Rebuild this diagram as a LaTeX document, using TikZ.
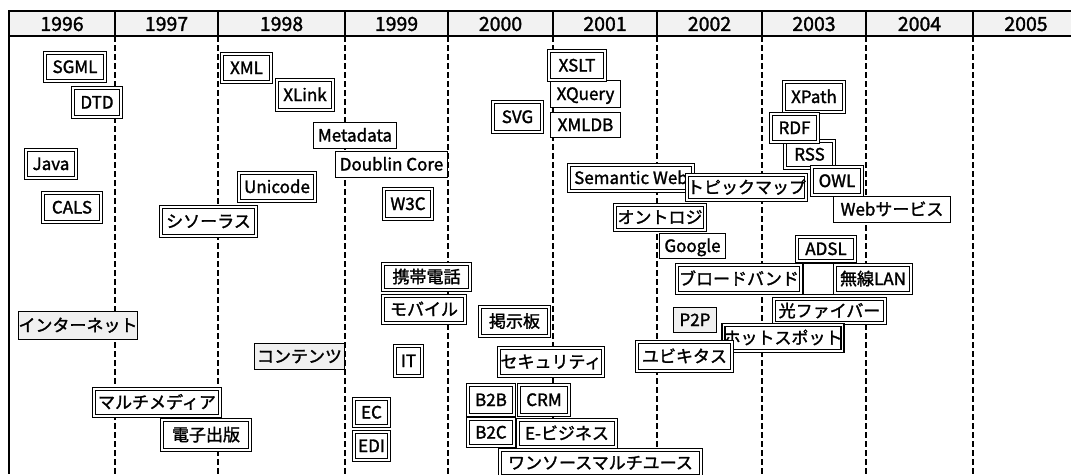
\documentclass[tikz,border=0pt]{standalone}
\usepackage{fontspec}
\setmainfont{Noto Sans CJK JP}
\newfontfamily\heavyjp{Noto Sans CJK JP}[FakeBold=1.6]
\begin{document}
\begin{tikzpicture}[x=1pt,y=-1pt,
  boxfont/.style={font=\heavyjp\fontsize{17}{17}\selectfont, text height=13.5pt, text depth=1.5pt},
  dbox/.style={boxfont, draw, line width=1.35pt, double=white, double distance=1.6pt, fill=white, inner sep=0pt},
  sbox/.style={boxfont, draw, line width=1.2pt, fill=white, inner sep=0pt},
  gbox/.style={sbox, fill=gray!12},
  yr/.style={font=\heavyjp\fontsize{19.5}{19.5}\selectfont, inner sep=0pt},
  hline/.style={line width=1.8pt},
  dline/.style={line width=1.4pt, dash pattern=on 6pt off 3pt}]
\useasboundingbox (0,0) rectangle (1071,474);
% header
\fill[gray!10] (9,11) rectangle (1071,36);
\draw[hline] (1071,11) -- (9,11) -- (9,474);
\draw[hline] (9,36) -- (1071,36);
\foreach \x in {115,218,345,448,553,657,762,866,973}{
  \draw[hline] (\x,11) -- (\x,36);
  \draw[dline] (\x,36) -- (\x,474);
}
\node[yr] (y1996) at (62,24) {1996};
\node[yr] (y1997) at (166.5,24) {1997};
\node[yr] (y1998) at (281.5,24) {1998};
\node[yr] (y1999) at (396.5,24) {1999};
\node[yr] (y2000) at (500.5,24) {2000};
\node[yr] (y2001) at (605,24) {2001};
\node[yr] (y2002) at (709.5,24) {2002};
\node[yr] (y2003) at (814,24) {2003};
\node[yr] (y2004) at (919.5,24) {2004};
\node[yr] (y2005) at (1026,24) {2005};
% boxes
\node[dbox, minimum width=60pt, minimum height=28pt] (sgml) at (75,67) {SGML};
\node[dbox, minimum width=48pt, minimum height=29pt] (dtd) at (97,102.5) {DTD};
\node[dbox, minimum width=49pt, minimum height=28pt] (xml) at (246.5,68) {XML};
\node[dbox, minimum width=56pt, minimum height=30pt] (xlink) at (305,95) {XLink};
\node[sbox, minimum width=83pt, minimum height=26pt] (metadata) at (355,135.5) {Metadata};
\node[sbox, minimum width=112pt, minimum height=26pt] (dublin) at (391.5,164.5) {Doublin Core};
\node[sbox, minimum width=70pt, minimum height=27pt] (xquery) at (585.5,94) {XQuery};
\node[dbox, minimum width=56pt, minimum height=29pt] (xslt) at (577,65.5) {XSLT};
\node[sbox, minimum width=70pt, minimum height=25pt] (xmldb) at (585.5,125) {XMLDB};
\node[dbox, minimum width=49pt, minimum height=30pt] (svg) at (517.5,117) {SVG};
\node[dbox, minimum width=60pt, minimum height=30pt] (xpath) at (814,97) {XPath};
\node[dbox, minimum width=49pt, minimum height=27pt] (rss) at (809.5,154.5) {RSS};
\node[dbox, minimum width=47pt, minimum height=28pt] (rdf) at (794.5,128) {RDF};
\node[dbox, minimum width=50pt, minimum height=28pt] (java) at (51,164) {Java};
\node[dbox, minimum width=58pt, minimum height=29pt] (cals) at (72,207.5) {CALS};
\node[dbox, minimum width=76pt, minimum height=28pt] (unicode) at (277,187) {Unicode};
\node[dbox, minimum width=95pt, minimum height=29pt] (thes) at (208.5,221.5) {シソーラス};
\node[dbox, minimum width=48pt, minimum height=30pt] (w3c) at (408,204) {W3C};
\node[dbox, minimum width=87pt, minimum height=26pt] (keitai) at (426.5,277) {携帯電話};
\node[dbox, minimum width=82pt, minimum height=27pt] (mobile) at (424,309.5) {モバイル};
\node[dbox, minimum width=69pt, minimum height=29pt] (bbs) at (514.5,321.5) {掲示板};
\node[dbox, minimum width=124pt, minimum height=26pt] (semweb) at (631,178) {Semantic Web};
\node[dbox, minimum width=117pt, minimum height=25pt] (topic) at (746.5,187.5) {トピックマップ};
\node[dbox, minimum width=50pt, minimum height=28pt] (owl) at (837,181) {OWL};
\node[sbox, minimum width=117pt, minimum height=26pt] (websvc) at (892,209.5) {Webサービス};
\node[dbox, minimum width=90pt, minimum height=25pt] (onto) at (660,217.5) {オントロジ};
\node[sbox, minimum width=66pt, minimum height=25pt] (google) at (692.5,246) {Google};
\node[dbox, minimum width=58pt, minimum height=24pt] (adsl) at (826,249) {ADSL};
\node[sbox, minimum width=31pt, minimum height=31pt] (blank) at (819,279) {};
\node[dbox, minimum width=124pt, minimum height=28pt] (broad) at (739,279) {ブロードバンド};
\node[dbox, minimum width=76pt, minimum height=28pt] (wlan) at (873,279) {無線LAN};
\node[dbox, minimum width=111pt, minimum height=24pt] (fiber) at (829.5,311) {光ファイバー};
\node[gbox, minimum width=43pt, minimum height=25pt] (p2p) at (695,320) {P2P};
\node[dbox, minimum width=116pt, minimum height=26pt] (hotspot) at (783,338) {ホットスポット};
\node[dbox, minimum width=95pt, minimum height=29pt] (ubiq) at (684.5,356.5) {ユビキタス};
\node[dbox, minimum width=104pt, minimum height=28pt] (secur) at (551,362) {セキュリティ};
\node[dbox, minimum width=201pt, minimum height=26pt] (onesource) at (600.5,463) {ワンソースマルチユース};
\node[dbox, minimum width=46pt, minimum height=30pt] (b2b) at (491,400) {B2B};
\node[dbox, minimum width=50pt, minimum height=30pt] (crm) at (544,400) {CRM};
\node[dbox, minimum width=46pt, minimum height=27pt] (b2c) at (491,432.5) {B2C};
\node[dbox, minimum width=98pt, minimum height=27pt] (ebiz) at (567,433.5) {E-ビジネス};
\node[dbox, minimum width=27pt, minimum height=30pt] (it) at (408.5,361) {IT};
\node[dbox, minimum width=35pt, minimum height=27pt] (ec) at (371.5,412.5) {EC};
\node[dbox, minimum width=35pt, minimum height=28pt] (edi) at (371.5,446) {EDI};
\node[gbox, minimum width=119pt, minimum height=28pt] (internet) at (78,325.5) {インターネット};
\node[gbox, minimum width=90pt, minimum height=26pt] (contents) at (299.5,356.5) {コンテンツ};
\node[dbox, minimum width=126pt, minimum height=27pt] (multimedia) at (157,402.5) {マルチメディア};
\node[dbox, minimum width=88pt, minimum height=30pt] (epub) at (206,435) {電子出版};
\end{tikzpicture}
\end{document}
